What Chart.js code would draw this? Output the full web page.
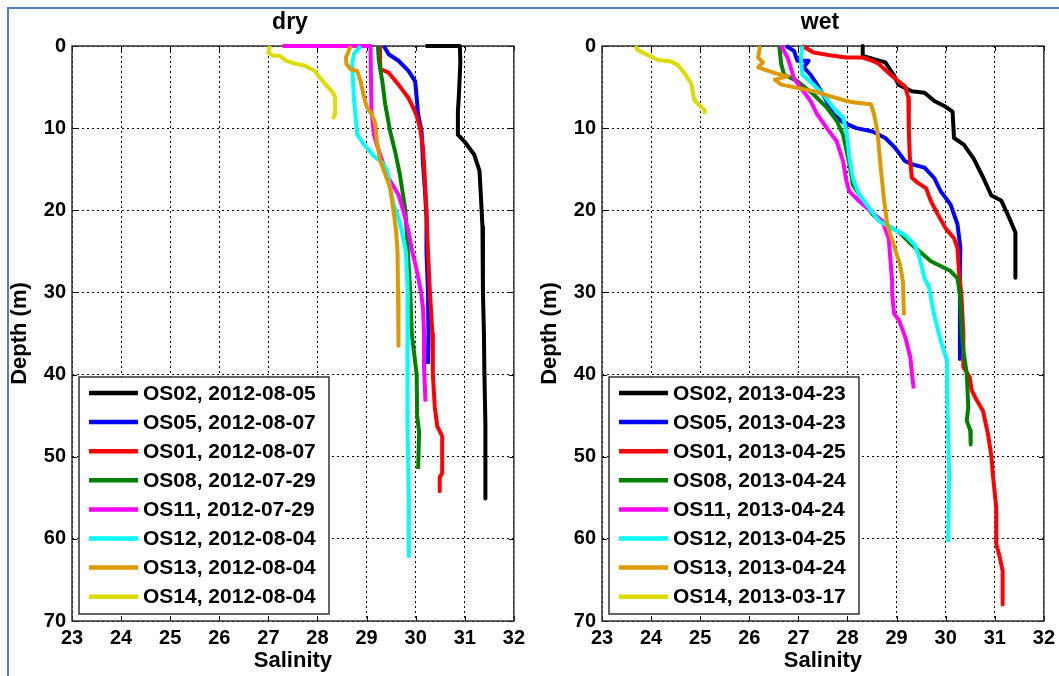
<!DOCTYPE html>
<html>
<head>
<meta charset="utf-8">
<script src="https://cdn.jsdelivr.net/npm/chart.js@4.4.0/dist/chart.umd.min.js"></script>
<style>
  html, body { margin:0; padding:0; background:#fff; }
  #wrap { position:relative; width:1059px; height:676px; overflow:hidden; background:#fff; }
  #frame { position:absolute; left:7px; top:7px; width:1100px; height:720px; border:2px solid #4f7fbf; box-sizing:border-box; }
  canvas { position:absolute; top:0; }
  #dry { left:0; }
  #wet { left:530px; }
</style>
</head>
<body>
<div id="wrap">
  <canvas id="dry" width="530" height="676"></canvas>
  <canvas id="wet" width="530" height="676"></canvas>
  <div id="frame"></div>
</div>
<script>
// axis ticks
const salTicks = [23, 24, 25, 26, 27, 28, 29, 30, 31, 32];
const depthTicks = [0, 10, 20, 30, 40, 50, 60, 70];

const stations = ['OS02', 'OS05', 'OS01', 'OS08', 'OS11', 'OS12', 'OS13', 'OS14'];
const colors = ['#000000', '#0000ff', '#ff0000', '#008000', '#ff00ff', '#00ffff', '#dc9a00', '#dcdc00'];
const dryDates = ['2012-08-05', '2012-08-07', '2012-08-07', '2012-07-29', '2012-07-29', '2012-08-04', '2012-08-04', '2012-08-04'];
const wetDates = ['2013-04-23', '2013-04-23', '2013-04-25', '2013-04-24', '2013-04-24', '2013-04-25', '2013-04-24', '2013-03-17'];

// ---- dry season profiles (salinity, depth m) ----
const dryS02 = [30.20, 30.90, 30.91, 30.88, 30.86, 30.86, 30.99, 31.19, 31.30, 31.33, 31.36, 31.37, 31.39, 31.40, 31.42, 31.42];
const dryD02 = [0, 0, 2, 6, 8, 10.8, 11.6, 13.2, 15.2, 18.5, 22, 30, 35, 40, 46, 55.1];
const dryS05 = [29.35, 29.45, 29.65, 29.85, 29.99, 30.02, 30.05, 30.12, 30.15, 30.19, 30.22, 30.22, 30.25, 30.26, 30.25];
const dryD05 = [0, 1, 1.8, 3, 4.3, 6.3, 8.3, 10.4, 14.4, 17.7, 21, 25, 30, 35, 38.7];
const dryS01 = [29.27, 29.28, 29.45, 29.65, 29.85, 29.95, 30.02, 30.09, 30.15, 30.19, 30.22, 30.25, 30.29, 30.34, 30.35, 30.39, 30.44, 30.54, 30.54, 30.49, 30.49];
const dryD01 = [0, 2.8, 3.25, 4.7, 6.3, 7.5, 8.5, 10, 12.4, 16.5, 20, 25, 30, 35, 40, 44, 46.3, 47.5, 52, 52.5, 54.2];
const dryS08 = [29.23, 29.25, 29.32, 29.38, 29.48, 29.58, 29.68, 29.79, 29.84, 29.89, 29.92, 30.02, 30.03, 30.07, 30.05];
const dryD08 = [0, 1.8, 4.3, 7.1, 10.4, 12.8, 15.7, 20, 25, 30, 35, 40, 45, 47, 51.5];
const dryS11 = [27.29, 29.08, 29.10, 29.15, 29.21, 29.32, 29.45, 29.65, 29.75, 29.85, 29.93, 30.03, 30.11, 30.15, 30.17, 30.17, 30.20];
const dryD11 = [0, 0, 7.9, 10.8, 12, 14, 16.1, 18.1, 20.1, 22.5, 25, 27.5, 30, 32, 35, 39, 43.3];
const dryS12 = [28.88, 28.74, 28.71, 28.74, 28.78, 28.81, 28.95, 29.15, 29.32, 29.42, 29.48, 29.55, 29.65, 29.72, 29.80, 29.84, 29.84, 29.83, 29.83, 29.86, 29.86];
const dryD12 = [0, 1, 2.2, 6.3, 8.7, 10.8, 12, 13.4, 14.2, 15.2, 17.3, 19.3, 20.9, 22.6, 25, 30, 35, 40, 46, 55, 62.1];
const dryS13 = [28.68, 28.58, 28.59, 28.68, 28.81, 28.88, 28.95, 29.01, 29.11, 29.18, 29.21, 29.28, 29.38, 29.48, 29.55, 29.60, 29.63, 29.64, 29.65, 29.65];
const dryD13 = [0, 1.4, 2.2, 2.85, 3.05, 4.3, 6.3, 7.5, 8.3, 9.55, 11.6, 14, 15.6, 17.3, 20.1, 22.5, 25, 30, 35, 36.5];
const dryS14 = [27.03, 27.00, 27.10, 27.23, 27.37, 27.57, 27.74, 27.94, 28.00, 28.17, 28.32, 28.36, 28.36, 28.31];
const dryD14 = [0, 0.8, 1.2, 1.2, 1.8, 2.2, 2.4, 3, 3.5, 4.7, 5.7, 6.3, 8.3, 8.9];

// ---- wet season profiles ----
const wetS02 = [28.31, 28.31, 28.77, 28.94, 29.04, 29.31, 29.57, 29.77, 29.97, 30.14, 30.17, 30.37, 30.57, 30.77, 30.93, 31.13, 31.30, 31.42, 31.42];
const wetD02 = [0, 1.2, 2.0, 3.5, 4.7, 5.5, 5.7, 6.7, 7.3, 8.0, 11.2, 12.0, 13.7, 16.1, 18.2, 18.8, 21.0, 22.7, 28.2];
const wetS05 = [26.75, 26.91, 26.98, 27.21, 27.11, 27.25, 27.38, 27.54, 27.71, 27.91, 28.18, 28.51, 28.77, 28.97, 29.17, 29.31, 29.57, 29.77, 29.90, 30.10, 30.24, 30.30, 30.29, 30.29, 30.29];
const wetD05 = [0, 0.6, 1.8, 1.8, 2.6, 3.5, 4.7, 6.3, 8.3, 9.3, 10, 10.4, 11.2, 12.4, 14, 14.4, 14.8, 16.1, 17.7, 19.3, 21.7, 24.6, 26.9, 35, 38.1];
const wetS01 = [27.08, 27.31, 27.71, 27.98, 28.31, 28.51, 28.64, 28.84, 29.04, 29.17, 29.24, 29.25, 29.27, 29.31, 29.44, 29.60, 29.70, 29.84, 30.00, 30.17, 30.24, 30.27, 30.32, 30.36, 30.36, 30.49, 30.53, 30.63, 30.76, 30.86, 30.93, 30.96, 31.03, 31.03, 31.10, 31.16, 31.16];
const wetD01 = [0, 0.8, 1.2, 1.4, 1.4, 1.8, 2.2, 3.3, 4.3, 4.9, 6.3, 10.4, 13.6, 16, 16.7, 17.3, 18.9, 20.5, 22.2, 23.4, 24.6, 27.4, 30.2, 35, 39.1, 40.3, 41.9, 43.1, 44.4, 47.2, 49.9, 52.1, 56.2, 60.6, 62.2, 63.9, 68.0];
const wetS08 = [26.61, 26.65, 26.71, 26.98, 27.31, 27.58, 27.78, 27.91, 28.04, 28.11, 28.24, 28.51, 28.77, 29.04, 29.31, 29.70, 30.10, 30.24, 30.29, 30.33, 30.36, 30.43, 30.46, 30.43, 30.50, 30.51];
const wetD08 = [0, 2.2, 3.5, 4.3, 5.9, 7.5, 9.1, 10.8, 14.4, 16.9, 18.1, 20.5, 21.7, 22.6, 24.2, 26.2, 27.4, 28.3, 30.2, 35, 37.1, 39.9, 44, 45.6, 46.8, 48.5];
const wetS11 = [26.65, 26.78, 26.91, 27.05, 27.25, 27.38, 27.58, 27.78, 27.91, 27.98, 28.04, 28.24, 28.51, 28.71, 28.84, 28.91, 28.91, 28.95, 29.05, 29.18, 29.28, 29.32, 29.35];
const wetD11 = [0, 1.4, 3.9, 5.1, 6.7, 8.3, 10, 11.6, 14, 16.5, 17.7, 18.9, 20.3, 21.3, 23.4, 28.7, 30.2, 32.6, 33.4, 35.5, 37.9, 40.3, 41.7];
const wetS12 = [27.08, 27.05, 27.08, 27.31, 27.51, 27.71, 27.91, 27.98, 28.04, 28.11, 28.24, 28.44, 28.64, 28.91, 29.17, 29.37, 29.47, 29.57, 29.66, 29.76, 29.86, 29.96, 30.03, 30.03, 30.07, 30.05];
const wetD12 = [0, 1.4, 3.5, 4.7, 5.9, 7.5, 8.7, 10.4, 13.6, 16.1, 18.1, 19.7, 21.3, 22.2, 23, 24.2, 25.8, 28.3, 29.3, 32.6, 35, 37.1, 38.3, 41.9, 52.1, 60.4];
const wetS13 = [26.22, 26.18, 26.28, 26.18, 26.52, 26.78, 26.52, 26.65, 26.98, 27.31, 27.64, 27.98, 28.18, 28.48, 28.54, 28.61, 28.67, 28.74, 28.81, 28.94, 29.07, 29.13, 29.15];
const wetD13 = [0, 1.4, 2.0, 2.6, 3.3, 3.7, 4.1, 4.7, 5.1, 5.5, 6.1, 6.7, 6.9, 7.1, 8.3, 10.4, 14.4, 18.5, 21.7, 24.2, 26.6, 28.7, 32.8];
const wetS14 = [23.68, 23.73, 23.93, 24.14, 24.41, 24.54, 24.68, 24.82, 24.88, 24.98, 25.09, 25.09];
const wetD14 = [0, 0.5, 1.1, 1.7, 1.9, 2.3, 3.3, 4.6, 6.6, 7.2, 7.8, 8.1];

const FONT = "'Liberation Sans', Arial, sans-serif";

function pts(s, d){ return s.map((v, i) => ({x: v, y: d[i]})); }

function buildSets(profiles, dates){
  return profiles.map((p, i) => ({
    label: stations[i] + ', ' + dates[i],
    data: pts(p[0], p[1]),
    borderColor: colors[i],
    backgroundColor: colors[i],
    borderWidth: 4,
    borderJoinStyle: 'round',
    showLine: true,
    pointRadius: 0,
    tension: 0,
    clip: 6,
    order: profiles.length - i   // later stations on top, like matlab
  }));
}

// frame, inward ticks, panel title and the in-axes legend
const decor = {
  id: 'decor',
  beforeDatasetsDraw(chart){
    const {ctx, chartArea: a, scales} = chart;
    ctx.save();
    ctx.strokeStyle = '#000'; ctx.lineWidth = 1;
    ctx.beginPath();
    salTicks.forEach(v => {
      const x = Math.round(scales.x.getPixelForValue(v)) + 0.5;
      ctx.moveTo(x, a.bottom); ctx.lineTo(x, a.bottom - 5);
      ctx.moveTo(x, a.top); ctx.lineTo(x, a.top + 5);
    });
    depthTicks.forEach(v => {
      const y = Math.round(scales.y.getPixelForValue(v)) + 0.5;
      ctx.moveTo(a.left, y); ctx.lineTo(a.left + 5, y);
      ctx.moveTo(a.right, y); ctx.lineTo(a.right - 5, y);
    });
    ctx.stroke();
    ctx.strokeStyle = '#333'; ctx.lineWidth = 1.5;
    ctx.strokeRect(a.left, a.top, a.right - a.left, a.bottom - a.top);
    ctx.restore();
  },
  afterDatasetsDraw(chart, args, opts){
    const ctx = chart.ctx;
    const sets = chart.data.datasets;
    ctx.save();
    ctx.fillStyle = '#fff';
    ctx.fillRect(79, 377, 250, 237);
    ctx.strokeStyle = '#333'; ctx.lineWidth = 1.5;
    ctx.strokeRect(79, 377, 250, 237);
    ctx.font = 'bold 21px ' + FONT;
    ctx.textBaseline = 'middle';
    sets.forEach((ds, i) => {
      const y = 393 + i * 29.1;
      ctx.strokeStyle = ds.borderColor; ctx.lineWidth = 4.5;
      ctx.beginPath(); ctx.moveTo(89, y); ctx.lineTo(138, y); ctx.stroke();
      ctx.fillStyle = '#000';
      ctx.fillText(ds.label, 143, y + 1);
    });
    ctx.restore();
  },
  afterDraw(chart, args, opts){
    const ctx = chart.ctx;
    ctx.save();
    ctx.font = 'bold 23px ' + FONT;
    ctx.fillStyle = '#000';
    ctx.textAlign = 'center';
    ctx.fillText(opts.title, opts.titleX, 29);
    ctx.restore();
  }
};

function makeChart(id, title, sets, padRight){
  return new Chart(document.getElementById(id), {
    type: 'scatter',
    data: { datasets: sets },
    options: {
      responsive: false,
      animation: false,
      layout: { padding: { top: 46, right: padRight, left: 0, bottom: 0 } },
      plugins: {
        legend: { display: false },
        tooltip: { enabled: false },
        decor: { title: title, titleX: 290 }
      },
      scales: {
        x: {
          type: 'linear', min: 23, max: 32,
          afterFit(s){ s.height = 55; },
          afterBuildTicks(s){ s.ticks = salTicks.map(v => ({value: v})); },
          ticks: { color: '#000', padding: 5, maxRotation: 0, autoSkip: false, font: { family: FONT, size: 20, weight: 'bold' } },
          grid: { color: '#000', lineWidth: 1, drawTicks: false },
          border: { display: false, dash: [2, 3] },
          title: { display: true, text: 'Salinity', color: '#000', padding: { top: 0, bottom: 2 }, font: { family: FONT, size: 22, weight: 'bold' } }
        },
        y: {
          type: 'linear', min: 0, max: 70, reverse: true,
          afterFit(s){ s.width = 72; },
          afterBuildTicks(s){ s.ticks = depthTicks.map(v => ({value: v})); },
          ticks: { color: '#000', padding: 6, font: { family: FONT, size: 20, weight: 'bold' } },
          grid: { color: '#000', lineWidth: 1, drawTicks: false },
          border: { display: false, dash: [2, 3] },
          title: { display: true, text: 'Depth (m)', color: '#000', padding: { top: 7, bottom: 0 }, font: { family: FONT, size: 22, weight: 'bold' } }
        }
      }
    },
    plugins: [decor]
  });
}

const drySets = buildSets([
  [dryS02, dryD02], [dryS05, dryD05], [dryS01, dryD01], [dryS08, dryD08],
  [dryS11, dryD11], [dryS12, dryD12], [dryS13, dryD13], [dryS14, dryD14]
], dryDates);
const wetSets = buildSets([
  [wetS02, wetD02], [wetS05, wetD05], [wetS01, wetD01], [wetS08, wetD08],
  [wetS11, wetD11], [wetS12, wetD12], [wetS13, wetD13], [wetS14, wetD14]
], wetDates);

makeChart('dry', 'dry', drySets, 10);
makeChart('wet', 'wet', wetSets, 9);
</script>
</body>
</html>
